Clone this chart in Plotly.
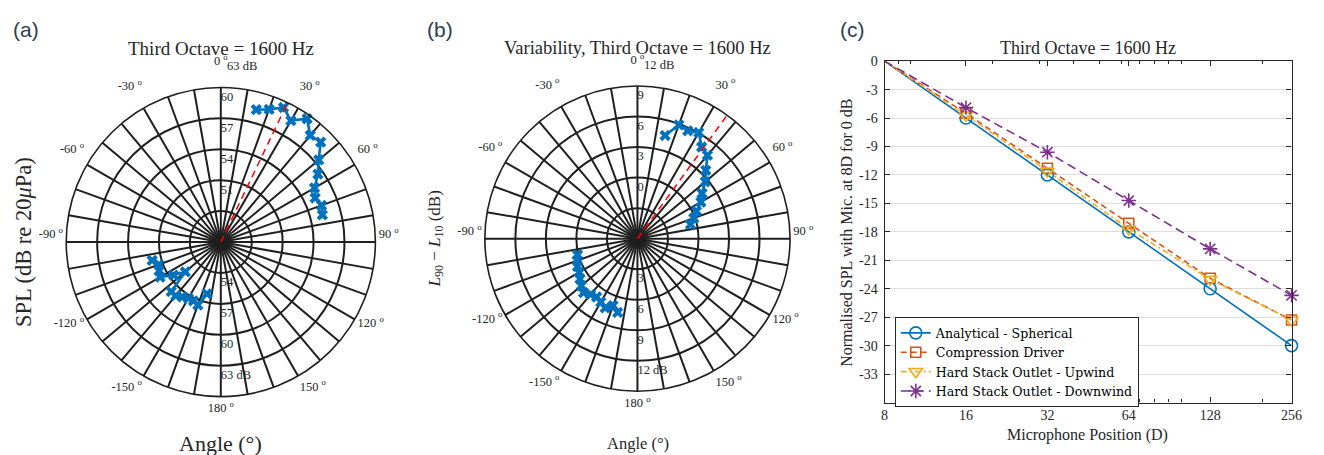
import math
import plotly.graph_objects as go

# ---------------- data ----------------
# (a) SPL directivity, third octave 1600 Hz
angle_front = [15, 20, 25, 30, 35, 40, 45, 50, 55, 60, 65, 70, 75]
spl_front = [61.3, 61.7, 62.4, 61.6, 62.6, 61.5, 61.7, 60.4, 59.5, 58.5, 58.1, 58.4, 58.2]
angle_rear = [-165, -160, -155, -150, -145, -140, -135, -130, -125, -120, -115, -110, -105]
spl_rear = [53.2, 54.5, 54.3, 54.3, 54.5, 54.8, 54.8, 52.5, 53.6, 54.8, 54.6, 54.4, 54.9]
spl_rings = [51, 54, 57, 60, 63]
spl_ref_angle = 25.6

# (b) variability L90 - L10
var_front = [7.5, 8.9, 8.7, 9.05, 8.0, 7.7, 6.5, 5.7, 4.75, 4.2, 3.4, 2.9, 2.4]
var_rear = [4.5, 4.0, 4.5, 4.2, 4.0, 4.15, 4.5, 4.2, 3.9, 3.6, 3.5, 3.3, 3.1]
var_rings = [0, 3, 6, 9, 12]
var_ref_angle = 36.0

# (c) decay with microphone distance
mic_position = [8, 16, 32, 64, 128, 256]
analytical = [0, -6, -12, -18, -24, -30]
compression = [0, -5.5, -11.3, -17.1, -22.9, -27.3]
upwind = [0, -5.7, -11.6, -17.7, -23.0, -27.3]
downwind = [0, -4.9, -9.6, -14.7, -19.8, -24.7]
y_ticks = [0, -3, -6, -9, -12, -15, -18, -21, -24, -27, -30, -33]
x_minor = [9, 10, 20, 30, 40, 50, 60, 70, 80, 90, 100, 200]

# ---------------- style ----------------
SERIF = "Liberation Serif, Times New Roman, serif"
LEGEND_SERIF = "DejaVu Serif, serif"
SANS = "Liberation Sans, Arial, sans-serif"
INK = "#262626"
GRID = "#1f1f1f"
BLUE = "#0072BD"
W, H = 1324, 455

fig = go.Figure()


def angle_text(a):
    if a % 30:
        return ""
    v = a if a <= 180 else a - 360
    # trailing empty line lifts the label text like the classic polar() layout
    return f"{v} <sup>o</sup><br> "


def polar_panel(sub, r_front, r_rear, rings, ref_angle):
    lo = rings[0] - (rings[1] - rings[0])
    hi = rings[-1]
    step = rings[1] - rings[0]
    for r, th in ((r_front, angle_front), (r_rear, angle_rear)):
        fig.add_trace(go.Scatterpolar(
            r=r, theta=th, subplot=sub, mode="lines+markers", showlegend=False,
            line=dict(color=BLUE, width=2.7),
            marker=dict(symbol="x", size=10, color=BLUE)))
    fig.add_trace(go.Scatterpolar(
        r=[lo, hi], theta=[ref_angle, ref_angle], subplot=sub, mode="lines",
        showlegend=False, line=dict(color="#FF0000", width=1.5, dash="7px,5px")))
    # ring labels along the vertical axis
    top_vals = rings[:-1]
    fig.add_trace(go.Scatterpolar(
        r=[v + 2 * step / 3 for v in top_vals], theta=[0] * len(top_vals), subplot=sub,
        mode="text", text=[str(v) for v in top_vals], textposition="middle right",
        textfont=dict(family=SERIF, size=12.5, color=INK), showlegend=False))
    bot_vals = rings[1:]
    bot_text = [str(v) for v in bot_vals[:-1]] + [f"{bot_vals[-1]} dB"]
    fig.add_trace(go.Scatterpolar(
        r=[v - 2 * step / 3 for v in bot_vals], theta=[180] * len(bot_vals), subplot=sub,
        mode="text", text=bot_text, textposition="middle right",
        textfont=dict(family=SERIF, size=12.5, color=INK), showlegend=False))
    return dict(
        bgcolor="white",
        angularaxis=dict(
            rotation=90, direction="clockwise", tickmode="array",
            tickvals=list(range(0, 360, 10)),
            ticktext=[angle_text(a) for a in range(0, 360, 10)],
            ticks="", showline=True, linecolor=GRID, linewidth=1.6,
            showgrid=True, gridcolor=GRID, gridwidth=1.5,
            tickfont=dict(family=SERIF, size=12.5, color=INK)),
        radialaxis=dict(
            range=[lo, hi], tickmode="array", tickvals=rings[:-1],
            showticklabels=False, ticks="", showline=False,
            showgrid=True, gridcolor=GRID, gridwidth=1.5),
    )


polar_a = polar_panel("polar", spl_front, spl_rear, spl_rings, spl_ref_angle)
polar_b = polar_panel("polar2", var_front, var_rear, var_rings, var_ref_angle)

# ---------------- (c) line plot ----------------
series = [
    ("Analytical - Spherical", analytical, "#0072BD", "solid", "circle-open", 12),
    ("Compression Driver", compression, "#D95319", "6px,4px", "square-open", 10),
    ("Hard Stack Outlet - Upwind", upwind, "#EDB120", "6px,3px,2px,3px", "triangle-down-open", 12),
    ("Hard Stack Outlet - Downwind", downwind, "#7E2F8E", "9px,5px", "asterisk-open", 12),
]
for name, vals, color, dash, sym, size in series:
    fig.add_trace(go.Scatter(
        x=mic_position, y=vals, name=name, mode="lines+markers",
        xaxis="x", yaxis="y", cliponaxis=False,
        line=dict(color=color, width=1.6, dash=dash),
        marker=dict(symbol=sym, size=size, color=color, line=dict(color=color, width=1.6))))


def px(x):
    return x / W


def py(y):
    return 1 - y / H


annotations = []


def label(text, x, y, size, family=SERIF, angle=0, color=INK, xanchor="center"):
    annotations.append(dict(text=text, x=px(x), y=py(y), xref="paper", yref="paper",
                            showarrow=False, xanchor=xanchor, yanchor="middle",
                            textangle=angle, font=dict(family=family, size=size, color=color)))


label("(a)", 22, 23, 21, family=SANS, color="#2c3e52")
label("(b)", 441, 23, 21, family=SANS, color="#2c3e52")
label("(c)", 858, 23, 21, family=SANS, color="#2c3e52")
label("Third Octave = 1600 Hz", 219, 42, 19)
label("Variability, Third Octave = 1600 Hz", 641, 42, 18.5)
label("Third Octave = 1600 Hz", 1096, 42, 18)
label(f"{spl_rings[-1]} dB", 224, 60, 12.5, xanchor="left")
label(f"{var_rings[-1]} dB", 645, 59, 12.5, xanchor="left")
label("SPL (dB re 20<i>μ</i>Pa)", 20, 239, 22.5, angle=-90)
label("Angle (°)", 219, 443, 22)
label("<i>L</i><sub>90</sub> − <i>L</i><sub>10</sub> (dB)", 437, 236, 17, angle=-90)
label("Angle (°)", 641, 443, 16.5)
label("Normalised SPL with Mic. at 8D for 0 dB", 852, 229, 16, angle=-90)
label("Microphone Position (D)", 1096, 435, 16)

fig.update_layout(
    width=W, height=H, margin=dict(l=0, r=0, t=0, b=0),
    paper_bgcolor="white", plot_bgcolor="white",
    polar=dict(domain=dict(x=[px(219.3 - 157), px(219.3 + 157)],
                           y=[py(238.7 + 157), py(238.7 - 157)]), **polar_a),
    polar2=dict(domain=dict(x=[px(640.7 - 155), px(640.7 + 155)],
                            y=[py(235.3 + 155), py(235.3 - 155)]), **polar_b),
    xaxis=dict(
        domain=[px(890.7), px(1302.3)], anchor="y", type="log",
        range=[math.log10(8), math.log10(256)],
        tickmode="array", tickvals=mic_position, ticktext=[str(v) for v in mic_position],
        ticks="inside", ticklen=5, tickcolor=INK, tickwidth=1,
        showline=True, linecolor=INK, linewidth=1.2, mirror="allticks",
        showgrid=False, zeroline=False, ticklabelstandoff=0,
        tickfont=dict(family=SERIF, size=14, color=INK),
        minor=dict(tickmode="array", tickvals=x_minor, ticks="inside", ticklen=3,
                   tickcolor=INK, showgrid=False)),
    yaxis=dict(
        domain=[py(401.7), py(55)], anchor="x", range=[-36, 0],
        tickmode="array", tickvals=y_ticks, ticktext=[str(v) for v in y_ticks],
        ticks="inside", ticklen=5, tickcolor=INK, tickwidth=1,
        showline=True, linecolor=INK, linewidth=1.2, mirror="allticks",
        showgrid=True, gridcolor="#dedede", gridwidth=1.4, zeroline=False,
        ticklabelstandoff=3,
        tickfont=dict(family=SERIF, size=14, color=INK)),
    legend=dict(x=px(901), y=py(315), xanchor="left", yanchor="top",
                bgcolor="white", bordercolor=INK, borderwidth=1,
                font=dict(family=LEGEND_SERIF, size=12.6, color="black"), tracegroupgap=0),
    annotations=annotations,
)

fig.write_html("out.html")
